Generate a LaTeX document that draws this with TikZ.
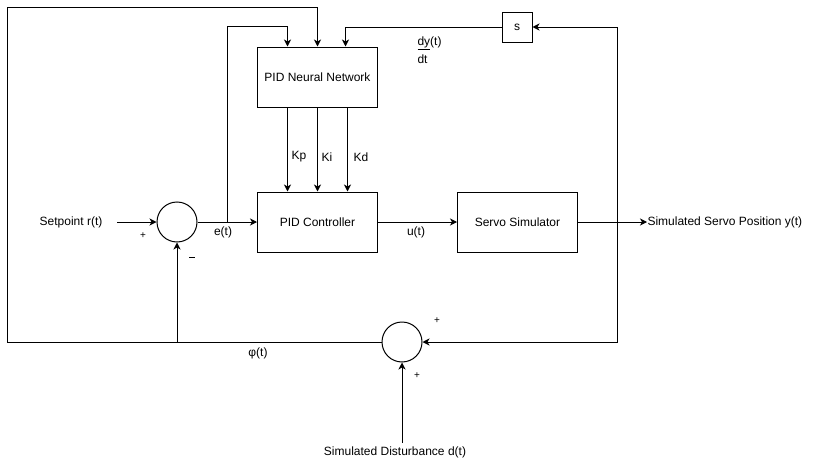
\documentclass[tikz,border=0pt]{standalone}
\usepackage{fontspec}
\setmainfont{Liberation Sans}
\usetikzlibrary{arrows.meta}
\begin{document}
\begin{tikzpicture}[x=1pt,y=-1pt,line width=1pt,
  blk/.style={draw,minimum width=120pt,minimum height=60pt,inner sep=0pt,font=\fontsize{12}{14}\selectfont},
  sumj/.style={draw,circle,minimum size=40pt,inner sep=0pt},
  lbl/.style={font=\fontsize{12}{14}\selectfont,inner sep=0pt},
  sgn/.style={font=\fontsize{10}{12}\selectfont,inner sep=0pt},
  arr/.style={-{Stealth[length=7pt,width=7pt,inset=2pt]}}]
\useasboundingbox (0,0) rectangle (817,463);
% blocks
\node[blk] (nn) at (317.5,77) {PID Neural Network};
\node[blk] (pid) at (317.5,222) {PID Controller};
\node[blk] (servo) at (517.5,222) {Servo Simulator};
\node[draw,minimum size=30pt,inner sep=0pt,font=\fontsize{12}{14}\selectfont] (s) at (517,27) {s};
\node[sumj] (sum1) at (177,222) {};
\node[sumj] (sum2) at (402,342) {};
% texts
\node[lbl] (sp) at (71,222) {Setpoint r(t)};
\node[lbl,anchor=west] (out) at (647,222) {Simulated Servo Position y(t)};
\node[lbl] (dist) at (395,452) {Simulated Disturbance d(t)};
\node[lbl] (et) at (223,232) {e(t)};
\node[lbl] (ut) at (416,232) {u(t)};
\node[lbl] (phit) at (258,353) {φ(t)};
\node[lbl] (kp) at (299,157) {Kp};
\node[lbl] (ki) at (327,157) {Ki};
\node[lbl] (kd) at (361,157) {Kd};
\node[lbl,anchor=west] (dy) at (417,43) {\underline{dy}(t)};
\node[lbl,anchor=west] (dt) at (417,59) {dt};
\node[sgn] (p1) at (143,236) {+};
\node[sgn] (m1) at (192,257) {\rule{6pt}{0.9pt}};
\node[sgn] (p2) at (437,321) {+};
\node[sgn] (p3) at (417,376) {+};
% coordinates
\coordinate (spout) at (117,222);
\coordinate (eb) at (227,222);
\coordinate (yb) at (617,222);
\coordinate (phi) at (177,342);
\coordinate (bl) at (7,342);
\coordinate (tl) at (7,7);
\coordinate (din) at (402,443);
% connectors
\draw[arr] (spout) -- (sum1.west);
\draw[arr] (sum1.east) -- (pid.west);
\draw[arr] (eb) |- ([xshift=-30pt,yshift=20pt]nn.north) -- ([xshift=-30pt]nn.north);
\draw[arr] (sum2.west) -- (bl) -- (tl) -| (nn.north);
\draw[arr] (phi) -- (sum1.south);
\draw[arr] (s.west) -| ([xshift=28pt]nn.north);
\draw[arr] (pid.east) -- (servo.west);
\draw[arr] (servo.east) -- (out.west);
\draw[arr] (yb) |- (s.east);
\draw[arr] (yb) |- (sum2.east);
\draw[arr] (din) -- (sum2.south);
\draw[arr] ([xshift=-30pt]nn.south) -- ([xshift=-30pt]pid.north);
\draw[arr] (nn.south) -- (pid.north);
\draw[arr] ([xshift=30pt]nn.south) -- ([xshift=30pt]pid.north);
\end{tikzpicture}
\end{document}
